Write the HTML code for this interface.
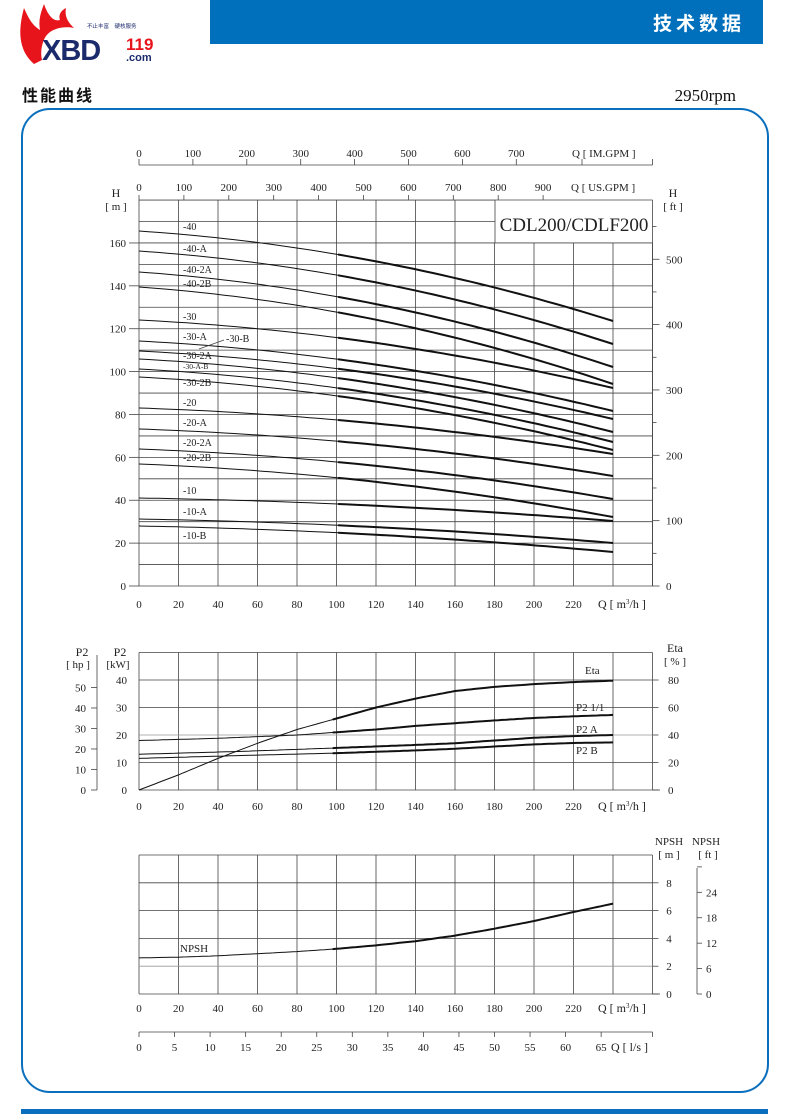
<!DOCTYPE html>
<html><head><meta charset="utf-8">
<style>
html,body{margin:0;padding:0;background:#fff;}
body{width:790px;height:1118px;position:relative;overflow:hidden;font-family:"Liberation Serif",serif;}
svg{position:absolute;left:0;top:0;}
</style></head>
<body>
<svg id="s" width="790" height="1118" viewBox="0 0 790 1118" xmlns="http://www.w3.org/2000/svg">
<rect x="210" y="0" width="553" height="44" fill="#0070bd"/>
<text x="745" y="30" text-anchor="end" font-family="Liberation Sans,Noto Sans CJK SC,sans-serif" font-size="19" font-weight="bold" fill="#fff" letter-spacing="4">技术数据</text>
<path d="M34 64 C18 50 18 30 24 8 C30 22 34 26 40 30 C38 18 42 10 44 4 C48 16 54 22 60 20 C58 14 62 10 66 8 C64 18 70 24 74 28 C64 26 52 28 46 36 C42 42 40 52 42 60 Z" fill="#e8141b"/>
<text x="42" y="60" font-family="Liberation Sans,sans-serif" font-size="29" font-weight="bold" fill="#1b2a6b" letter-spacing="-1">XBD</text>
<text x="126" y="50" font-family="Liberation Sans,sans-serif" font-size="17" font-weight="bold" fill="#e8141b">119</text>
<text x="126" y="61" font-family="Liberation Sans,sans-serif" font-size="11" font-weight="bold" fill="#1b2a6b">.com</text>
<text x="87" y="28" font-family="Liberation Sans,Noto Sans CJK SC,sans-serif" font-size="5.5" fill="#1b2a6b">不止丰富　硬核服务</text>
<text x="22" y="101" font-family="Liberation Sans,Noto Sans CJK SC,sans-serif" font-size="16" font-weight="bold" fill="#111" letter-spacing="2">性能曲线</text>
<text x="736" y="101" text-anchor="end" font-size="17" fill="#111">2950rpm</text>
<rect x="22" y="109" width="746" height="983" rx="28" ry="28" fill="none" stroke="#0a6fbd" stroke-width="2"/>
<rect x="21" y="1109" width="747" height="5" fill="#0a6fbd"/>
<g id="g" font-size="11" fill="#222"></g>
</svg>
<script>
var g=document.getElementById('g'),o='';
var X=function(q){return 139+q*1.975;};
function L(x1,y1,x2,y2,w,c){o+='<line x1="'+x1+'" y1="'+y1+'" x2="'+x2+'" y2="'+y2+'" stroke="'+(c||'#444')+'" stroke-width="'+(w||0.8)+'"/>';}
function T(x,y,s,a,fs){o+='<text x="'+x+'" y="'+y+'"'+(a?' text-anchor="'+a+'"':'')+(fs?' font-size="'+fs+'"':'')+'>'+s+'</text>';}
function P1(pts,w){var d='M'+pts.map(function(p){return p[0].toFixed(1)+' '+p[1].toFixed(1);}).join(' L');o+='<path d="'+d+'" fill="none" stroke="#111" stroke-width="'+w+'" stroke-linejoin="round"/>';}
function P(pts,w){P1(pts,1);var th=pts.filter(function(p){return p[0]>=X(98);});if(th.length>1)P1(th,w||2);}
function interp(arr,q){for(var i=0;i<arr.length-1;i++){if(q<=arr[i+1][0]){var t=(q-arr[i][0])/(arr[i+1][0]-arr[i][0]);return arr[i][1]+t*(arr[i+1][1]-arr[i][1]);}}return arr[arr.length-1][1];}
function smooth(arr,Yf){var p=[];for(var q=arr[0][0];q<=arr[arr.length-1][0]+0.01;q+=2){p.push([X(q),Yf(interp(arr,q))]);}return p;}
var R=652.5, HY=function(h){return 586-h*2.144;};
for(var i=0;i<=13;i++){var x=139+39.5*i; L(x, i>=9?243:200, x,586);}
for(var h=0;h<=180;h+=10){L(139,HY(h),(h>=170)?495:R,HY(h));}
L(495,200,R,200);L(R,200,R,586);L(495,200,495,243);
T(574,231,'CDL200/CDLF200','middle',19);
for(var h=0;h<=160;h+=20){L(129,HY(h),139,HY(h));T(126,HY(h)+4,h,'end');}
T(116,197,'H','middle',12);T(116,210,'[ m ]','middle',11);
T(673,197,'H','middle',12);T(673,210,'[ ft ]','middle',11);
for(var f=0;f<=500;f+=100){var y=586-f*0.3048*2.144;L(R,y,R+7,y);T(666,y+4,f);}
for(var f=50;f<=550;f+=100){var y=586-f*0.3048*2.144;L(R,y,R+4,y);}
for(var q=0;q<=220;q+=20){T(X(q),608,q,'middle');}
o+='<text x="598" y="608" font-size="12">Q [ m<tspan font-size="7" dy="-4">3</tspan><tspan dy="4">/h ]</tspan></text>';
for(var u=0;u<=900;u+=100){var x=139+u*0.449;L(x,195,x,200);T(x,191,u,'middle');}
T(571,191,'Q [ US.GPM ]');
L(139,165,R,165);
for(var u=0;u<=700;u+=100){var x=139+u*0.539;L(x,159,x,165);T(x,157,u,'middle');}
L(R,159,R,165);L(582,159,582,165);
T(572,157,'Q [ IM.GPM ]');
var curves=[[231,321],[251,344],[272,367],[287,384],[320,388],[341,411],[351,419],[359,432],[369,442],[377,450],[408,454],[429,476],[449,499],[464,517],[498,521],[519,543],[526,552]];
curves.forEach(function(c){var p=[];for(var t=0;t<=1.0001;t+=0.02){p.push([139+t*474,c[0]+(c[1]-c[0])*(0.35*t+0.65*t*t)]);}P(p,2);});
var labs=[['-40',230],['-40-A',252],['-40-2A',273],['-40-2B',287],['-30',320],['-30-A',340],['-30-2A',359],['-30-2B',386],['-20',406],['-20-A',426],['-20-2A',446],['-20-2B',461],['-10',494],['-10-A',515],['-10-B',539]];
labs.forEach(function(l){T(183,l[1],l[0],null,10);});
T(183,369,'-30-A-B',null,7.5);T(226,342,'-30-B',null,10);L(199,349,224,340,0.7);
var KY=function(k){return 790-k*2.75;};
for(var i=0;i<=13;i++){var x=139+39.5*i;L(x,652.5,x,790);}
for(var k=0;k<=50;k+=10){L(139,KY(k),R,KY(k),0.8,k==20?'#999':'#444');}
L(R,790,660,790);
for(var k=0;k<=40;k+=10){T(127,KY(k)+4,k,'end');}
for(var e=0;e<=80;e+=20){var y=790-e*1.375;L(R,y,R+6,y);T(668,y+4,e);}
L(97,655,97,790);
for(var hp=0;hp<=50;hp+=10){var y=790-hp*0.7457*2.75;L(91,y,97,y);T(86,y+4,hp,'end');}
T(82,656,'P2','middle',12);T(78,668,'[ hp ]','middle',11);
T(120,656,'P2','middle',12);T(118,668,'[kW]','middle',11);
T(675,652,'Eta','middle',12);T(675,665,'[ % ]','middle',11);
for(var q=0;q<=220;q+=20){T(X(q),810,q,'middle');}
o+='<text x="598" y="810" font-size="12">Q [ m<tspan font-size="7" dy="-4">3</tspan><tspan dy="4">/h ]</tspan></text>';
var eta=[[0,0],[20,11],[40,23],[60,34],[80,44],[100,52],[120,60],[140,66.5],[160,72],[180,75],[200,77],[220,78.5],[240,79.5]];
P(smooth(eta,function(v){return 790-v*1.375;}),2);
P(smooth([[0,18],[40,18.8],[80,20],[100,21],[120,22],[140,23.3],[160,24.3],[180,25.3],[200,26.2],[220,26.8],[240,27.3]],KY),2);
P(smooth([[0,13],[50,14],[100,15.3],[140,16.4],[160,17],[180,18],[200,19],[220,19.6],[240,20]],KY),2);
P(smooth([[0,11.5],[50,12.5],[100,13.4],[140,14.4],[160,15],[180,15.8],[200,16.6],[220,17.1],[240,17.3]],KY),2);
T(585,674,'Eta',null,11);T(576,711,'P2  1/1',null,11);T(576,733,'P2  A',null,11);T(576,754,'P2  B',null,11);
var NY=function(m){return 994-m*13.9;};
for(var i=0;i<=13;i++){var x=139+39.5*i;L(x,855,x,994);}
for(var m=0;m<=10;m+=2){L(139,NY(m),R,NY(m),0.8,m==2?'#999':'#444');}
L(R,994,660,994);
for(var m=0;m<=8;m+=2){L(R,NY(m),R+6,NY(m));T(669,NY(m)+4,m,'middle');}
L(697,868,697,994);
for(var f=0;f<=30;f+=6){var y=994-f*0.3048*13.9;L(697,y,702,y);if(f<30)T(706,y+4,f);}
T(669,845,'NPSH','middle',11);T(669,858,'[ m ]','middle',11);
T(706,845,'NPSH','middle',11);T(708,858,'[ ft ]','middle',11);
for(var q=0;q<=220;q+=20){T(X(q),1012,q,'middle');}
o+='<text x="598" y="1012" font-size="12">Q [ m<tspan font-size="7" dy="-4">3</tspan><tspan dy="4">/h ]</tspan></text>';
P(smooth([[0,2.6],[20,2.65],[40,2.75],[60,2.9],[80,3.05],[100,3.25],[120,3.5],[140,3.8],[160,4.2],[180,4.7],[200,5.25],[220,5.9],[240,6.5]],NY),2);
T(180,952,'NPSH',null,11);
L(139,1032,R,1032);
for(var s=0;s<=65;s+=5){var x=139+s*7.11;L(x,1032,x,1037);T(x,1051,s,'middle');}
L(R,1032,R,1037);
T(611,1051,'Q [ l/s ]',null,12);
g.innerHTML=o;
</script>
</body></html>
